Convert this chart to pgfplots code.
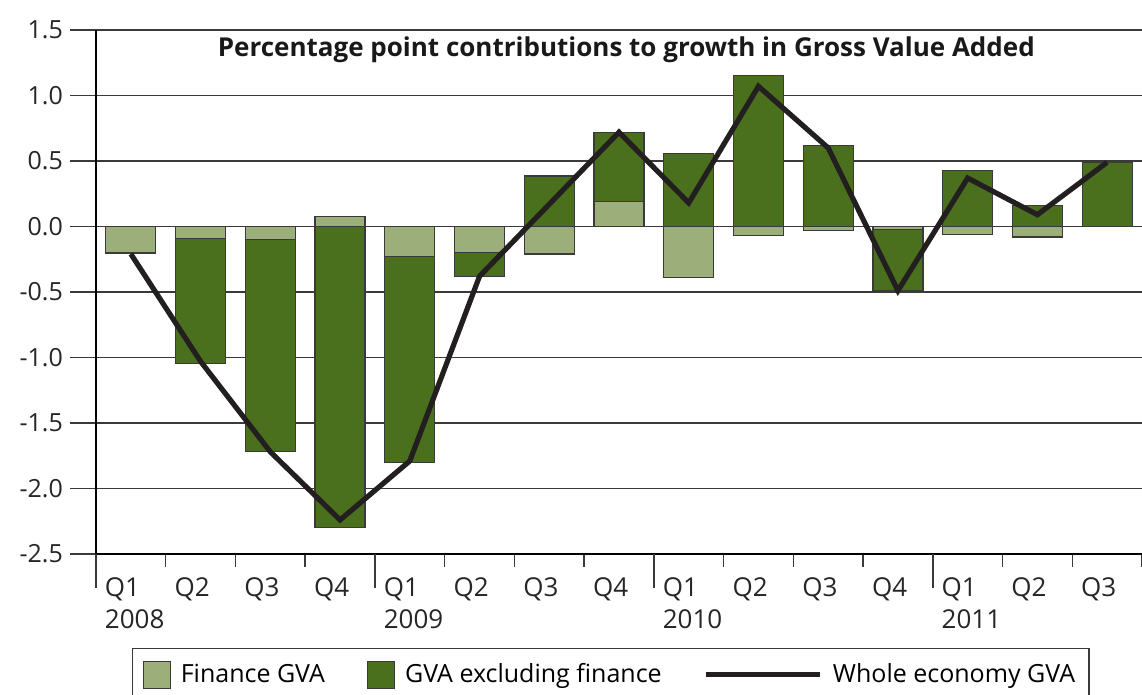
\documentclass[border=0pt]{standalone}
\usepackage{fontspec}
\setmainfont{Open Sans}
\usepackage{pgfplots}
\usepackage{pgfplotstable}
\pgfplotsset{compat=1.18}

\definecolor{finlight}{HTML}{9CAF7A}
\definecolor{exdark}{HTML}{4A6F1D}
\definecolor{linek}{HTML}{231F20}
\definecolor{gridg}{HTML}{3A3A3A}

% fin = finance contribution; outer = far end of the bar (total if same sign, else ex-finance)
\pgfplotstableread{
x fin   outer  whole
0 -0.20 -0.205 -0.21
1 -0.09 -1.045 -1.03
2 -0.10 -1.72  -1.72
3 0.075 -2.30  -2.24
4 -0.23 -1.80  -1.79
5 -0.20 -0.38  -0.38
6 -0.21 0.385  0.17
7 0.19  0.72   0.72
8 -0.39 0.56   0.18
9 -0.07 1.15   1.07
10 -0.03 0.62  0.60
11 -0.02 -0.49 -0.49
12 -0.06 0.43  0.37
13 -0.08 0.16  0.09
14 0.00 0.49   0.49
}\gva

\pgfplotsset{
  sq legend/.style={legend image code/.code={\draw[##1] (0pt,-6.75pt) rectangle (13.5pt,6.75pt);}},
  ln legend/.style={legend image code/.code={\draw[##1] (0pt,0pt) -- (57pt,0pt);}},
}

\begin{document}
\begin{tikzpicture}
\begin{axis}[
  scale only axis,
  width=523pt, height=262pt,
  xmin=-0.5, xmax=14.5,
  ymin=-2.5, ymax=1.5,
  axis x line*=bottom, axis y line*=left,
  axis line style={-, black, line width=0.6pt},
  ytick={-2.5,-2,...,1.5},
  ymajorgrids,
  major grid style={gridg, line width=0.7pt},
  tick align=outside,
  major tick length=13pt,
  minor tick length=6.5pt,
  ytick style={gridg, line width=0.7pt},
  ticklabel style={text=black!85},
  yticklabel style={font=\fontsize{12.5}{15}\selectfont, /pgf/number format/.cd, fixed, fixed zerofill, precision=1, assume math mode=true},
  xtick={0,...,14},
  xticklabels={Q1\\2008,Q2,Q3,Q4,Q1\\2009,Q2,Q3,Q4,Q1\\2010,Q2,Q3,Q4,Q1\\2011,Q2,Q3},
  xtick style={draw=none},
  minor xtick={-0.5,0.5,...,14.5},
  minor x tick style={draw=gridg, line width=0.7pt},
  extra x ticks={-0.5,3.5,7.5,11.5},
  extra x tick labels={},
  extra x tick style={major tick length=17pt, xtick style={draw=gridg, line width=0.7pt}},
  xticklabel style={align=left, anchor=north west, xshift=-16.5pt, yshift=4.5pt, font=\fontsize{13}{16}\selectfont},
  legend columns=3,
  legend style={at={(0,0)}, anchor=north west, xshift=18pt, yshift=-47pt,
    draw=gridg, line width=0.6pt, font=\fontsize{12.5}{15}\selectfont,
    inner xsep=5pt, inner ysep=5.5pt,
    /tikz/every odd column/.append style={column sep=3pt},
    /tikz/every even column/.append style={column sep=19pt}},
  legend cell align=left,
]
\addplot[ybar, bar width=25pt, bar shift=0pt, fill=exdark, draw=gridg, line width=0.6pt, forget plot]
  table[x=x, y=outer]{\gva};
\addplot[ybar, bar width=25pt, bar shift=0pt, fill=finlight, draw=gridg, line width=0.6pt, forget plot]
  table[x=x, y=fin]{\gva};
\addplot[linek, line width=2.6pt, forget plot] table[x=x, y=whole]{\gva};

\addlegendimage{sq legend, fill=finlight, draw=gridg, line width=0.6pt}
\addlegendentry{Finance GVA}
\addlegendimage{sq legend, fill=exdark, draw=gridg, line width=0.6pt}
\addlegendentry{GVA excluding finance}
\addlegendimage{ln legend, linek, line width=2.6pt}
\addlegendentry{Whole economy GVA}

\node[font=\bfseries\fontsize{13}{15}\selectfont, text=black!90] at (rel axis cs:0.507,0.962)
  {Percentage point contributions to growth in Gross Value Added};
\coordinate (ll) at (rel axis cs:0,0);
\coordinate (ur) at (rel axis cs:1,1);
\end{axis}
\pgfresetboundingbox
\path[use as bounding box] ([shift={(-48pt,-70.5pt)}]ll) rectangle ([shift={(0pt,15pt)}]ur);
\end{tikzpicture}
\end{document}
